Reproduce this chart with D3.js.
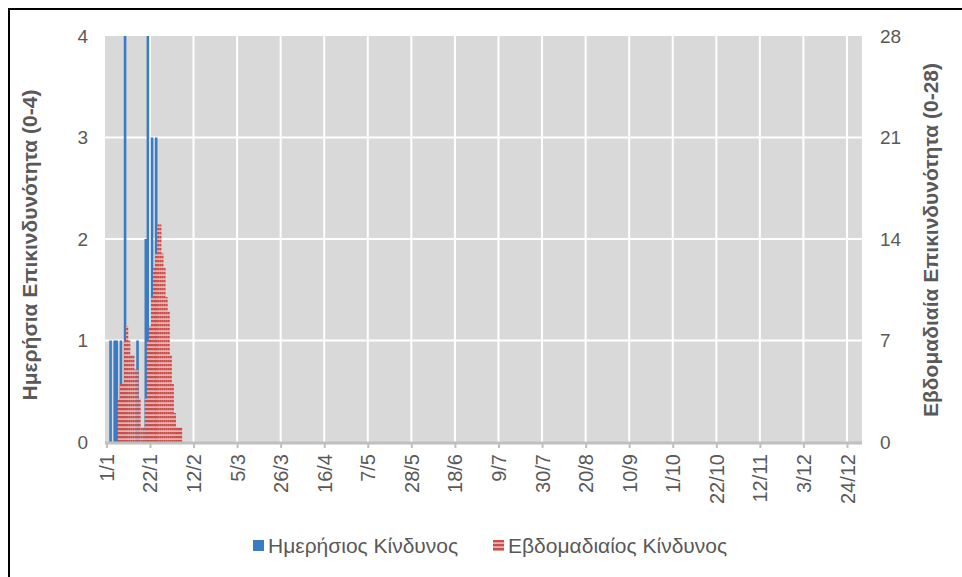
<!DOCTYPE html>
<html>
<head>
<meta charset="utf-8">
<script src="https://cdn.jsdelivr.net/npm/d3@7"></script>
<style>
  body { margin: 0; background: #fff; }
  svg text { font-family: "Liberation Sans", Arial, sans-serif; fill: #595959; }
</style>
</head>
<body>
<div id="graph"></div>
<script>
// daily risk (0-4), left axis
var dailyDates = ["2021-01-03", "2021-01-05", "2021-01-06", "2021-01-08", "2021-01-10",
                  "2021-01-16", "2021-01-20", "2021-01-21", "2021-01-23", "2021-01-25"]
var dailyRisk = [1, 1, 1, 1, 4, 1, 2, 4, 3, 3]

// weekly risk (0-28), right axis, one value per day starting 7/1
var weeklyStart = "2021-01-07"
var weeklyRisk = [3, 4, 4, 7, 8, 7, 6, 6, 5, 5, 3, 1, 1, 3, 7, 8, 10, 12, 13, 15,
                  15, 13, 12, 10, 9, 6, 4, 2, 1, 1, 1]

var leftTicks = [0, 1, 2, 3, 4]
var rightTicks = [0, 7, 14, 21, 28]
var xFirstTick = "2021-01-01"
var xLastTick = "2021-12-24"
var xTickStep = 21

var leftTitle = "Ημερήσια Επικινδυνότητα (0-4)"
var rightTitle = "Εβδομαδιαία Επικινδυνότητα (0-28)"
var legendNames = ["Ημερήσιος Κίνδυνος", "Εβδομαδιαίος Κίνδυνος"]

var width, height
var plot
var svg = d3.select("#graph").append("svg")

var parse = d3.timeParse("%Y-%m-%d")
var fmt = d3.timeFormat("%-d/%-m")

function setSize() {
    width = 962
    height = 577
    plot = {left: 105, right: 862, top: 36, bottom: 442}
    svg.attr("width", width).attr("height", height)
}

function drawChart() {
    var t0 = parse(xFirstTick), t1 = parse(xLastTick)
    var x = d3.scaleTime().domain([t0, t1]).range([106.4, 847])
    var dayW = (x(t1) - x(t0)) / d3.timeDay.count(t0, t1)

    var yL = d3.scaleLinear().domain([0, 4]).range([plot.bottom, plot.top])
    var yR = d3.scaleLinear().domain([0, 28]).range([plot.bottom, plot.top])

    var defs = svg.append("defs")
    var pat = defs.append("pattern")
        .attr("id", "stripes")
        .attr("patternUnits", "userSpaceOnUse")
        .attr("width", 8).attr("height", 4)
    pat.append("rect").attr("width", 8).attr("height", 4).attr("fill", "#eab0ae")
    pat.append("rect").attr("width", 8).attr("height", 2.2).attr("fill", "#c4514e")

    // outer frame
    svg.append("rect")
        .attr("x", 9).attr("y", 9)
        .attr("width", 1000).attr("height", 1000)
        .attr("fill", "none").attr("stroke", "#000").attr("stroke-width", 2)

    // plot background
    svg.append("rect")
        .attr("x", plot.left).attr("y", plot.top)
        .attr("width", plot.right - plot.left).attr("height", plot.bottom - plot.top)
        .attr("fill", "#d9d9d9")

    var xTicks = d3.timeDay.every(1).range(t0, d3.timeDay.offset(t1, 1))
        .filter(function(d, i) { return i % xTickStep === 0 })

    var grid = svg.append("g").attr("class", "grid")
    grid.selectAll("line.v")
        .data(xTicks.slice(1))
        .enter().append("line")
        .attr("class", "v")
        .attr("x1", function(d) { return x(d) }).attr("x2", function(d) { return x(d) })
        .attr("y1", plot.top).attr("y2", plot.bottom)
        .attr("stroke", "#fff").attr("stroke-width", 2)
    grid.selectAll("line.h")
        .data(leftTicks.slice(1, -1))
        .enter().append("line")
        .attr("class", "h")
        .attr("x1", plot.left).attr("x2", plot.right)
        .attr("y1", function(d) { return yL(d) }).attr("y2", function(d) { return yL(d) })
        .attr("stroke", "#fff").attr("stroke-width", 2)

    // daily bars
    var daily = dailyDates.map(function(d, i) { return {date: parse(d), v: dailyRisk[i]} })
    svg.append("g").attr("class", "daily")
        .selectAll("rect")
        .data(daily)
        .enter().append("rect")
        .attr("x", function(d) { return x(d.date) - 1.3 })
        .attr("width", 2.6)
        .attr("y", function(d) { return yL(d.v) })
        .attr("height", function(d) { return yL(0) - yL(d.v) })
        .attr("fill", "#3a7cc3")

    // weekly bars (drawn on top)
    var ws = parse(weeklyStart)
    var weekly = weeklyRisk.map(function(v, i) { return {date: d3.timeDay.offset(ws, i), v: v} })
    svg.append("g").attr("class", "weekly")
        .selectAll("rect")
        .data(weekly)
        .enter().append("rect")
        .attr("x", function(d) { return x(d.date) - dayW / 2 })
        .attr("width", dayW + 0.05)
        .attr("y", function(d) { return yR(d.v) })
        .attr("height", function(d) { return yR(0) - yR(d.v) })
        .attr("fill", "url(#stripes)")

    // x axis
    var xAxis = d3.axisBottom(x)
        .tickValues(xTicks)
        .tickFormat(fmt)
        .tickSize(5)
        .tickPadding(6)
    var gx = svg.append("g")
        .attr("transform", "translate(0," + (plot.bottom + 1) + ")")
        .call(xAxis)
    gx.select(".domain").remove()
    gx.append("line")
        .attr("x1", plot.left).attr("x2", plot.right)
        .attr("y1", 0).attr("y2", 0)
        .attr("stroke", "#bfbfbf").attr("stroke-width", 3)
    gx.selectAll(".tick line").attr("stroke", "#bfbfbf").attr("stroke-width", 2)
    gx.selectAll(".tick text")
        .attr("font-size", 20)
        .attr("text-anchor", "end")
        .attr("dy", "0.35em")
        .attr("transform", "translate(0,11) rotate(-90)")
        .attr("x", 0).attr("y", 0)
        .attr("font-family", null)
        .attr("fill", null)

    // left axis
    var gl = svg.append("g")
        .attr("transform", "translate(" + 88 + ",0)")
        .call(d3.axisLeft(yL).tickValues(leftTicks).tickFormat(d3.format("d")).tickSize(0).tickPadding(0))
    gl.select(".domain").remove()
    gl.selectAll("text").attr("font-size", 19).attr("font-family", null).attr("fill", null)

    // right axis
    var gr = svg.append("g")
        .attr("transform", "translate(" + 880 + ",0)")
        .call(d3.axisRight(yR).tickValues(rightTicks).tickFormat(d3.format("d")).tickSize(0).tickPadding(0))
    gr.select(".domain").remove()
    gr.selectAll("text").attr("font-size", 19).attr("font-family", null).attr("fill", null)

    // axis titles
    svg.append("text")
        .attr("transform", "translate(37," + 245 + ") rotate(-90)")
        .attr("text-anchor", "middle")
        .attr("font-size", 21).attr("font-weight", "bold")
        .text(leftTitle)
    svg.append("text")
        .attr("transform", "translate(938," + 240 + ") rotate(-90)")
        .attr("text-anchor", "middle")
        .attr("font-size", 21).attr("font-weight", "bold")
        .text(rightTitle)

    // legend
    var legend = svg.append("g").attr("class", "legend")
    var lx = [253, 493]
    var lfill = ["#3a7cc3", "url(#stripes)"]
    legendNames.forEach(function(name, i) {
        legend.append("rect")
            .attr("x", lx[i]).attr("y", 540)
            .attr("width", 11).attr("height", 11)
            .attr("fill", lfill[i])
        legend.append("text")
            .attr("x", lx[i] + 15).attr("y", 553)
            .attr("font-size", 21)
            .text(name)
    })
}

setSize()
drawChart()
</script>
</body>
</html>
